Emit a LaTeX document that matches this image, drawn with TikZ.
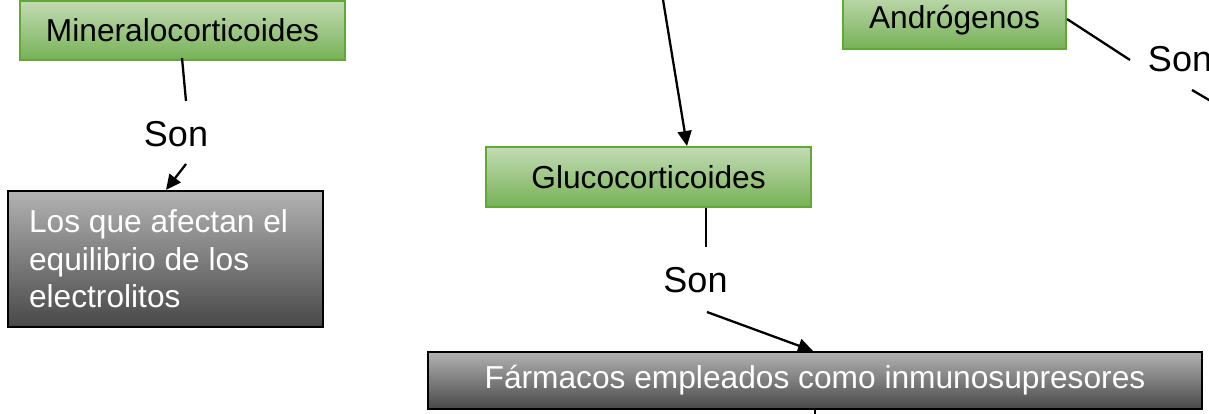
\documentclass[tikz,border=0pt]{standalone}
\usepackage{fontspec}
\setmainfont{Liberation Sans}
\usetikzlibrary{calc,arrows.meta}
\definecolor{gtop}{RGB}{195,219,180}
\definecolor{gbot}{RGB}{118,177,86}
\definecolor{gborder}{RGB}{96,170,52}
\definecolor{ktop}{RGB}{178,178,178}
\definecolor{kbot}{RGB}{72,72,72}
\tikzset{
  greenbox/.style={draw=gborder, line width=2pt, top color=gtop, bottom color=gbot,
    inner sep=0pt, font=\fontsize{31.7}{38}\selectfont, text=black},
  graybox/.style={draw=black, line width=2.2pt, top color=ktop, bottom color=kbot,
    inner sep=0pt, font=\fontsize{31.7}{37.5}\selectfont, text=white},
  sonlabel/.style={inner sep=0pt, font=\fontsize{36}{40}\selectfont},
  conn/.style={draw=black, line width=2.3pt},
  arr/.style={conn, -{Triangle[length=15pt,width=14pt]}}
}
\begin{document}
\begin{tikzpicture}[x=1pt,y=-1pt]
\useasboundingbox (0,0) rectangle (1209,413);
\clip (0,0) rectangle (1209,413);
\fill[white] (0,0) rectangle (1209,413);

\node[greenbox, minimum width=325pt, minimum height=59pt] (mineral) at (182.5,30.5) {Mineralocorticoides};
\node[graybox, minimum width=315pt, minimum height=136pt, text width=273pt, align=flush left] (losque) at (165.5,259)
  {Los que afectan el\\equilibrio de los\\electrolitos};
\node[greenbox, minimum width=325pt, minimum height=60pt] (gluco) at (648.5,177) {Glucocorticoides};
\node[greenbox, minimum width=223pt, minimum height=58pt] (andro) at (954.5,20) {Andrógenos};
\node[graybox, minimum width=774pt, minimum height=57pt] (farm) at (815,380.5) {Fármacos empleados como inmunosupresores};

\node[sonlabel] (son1) at (176,134.5) {Son};
\node[sonlabel] (son2) at (695.5,280.5) {Son};
\node[sonlabel] (son3) at (1180,59.5) {Son};

\coordinate (topin) at (661.4,-10);
\coordinate (rightout) at (1225,109.4);
\coordinate (bottomout) at (815,425);

\draw[conn] ($(mineral.center)+(-0.5,27.5)$) -- ($(son1)+(10,-33.5)$);
\draw[arr] ($(son1)+(10,29.5)$) -- ($(losque.north)+(0.5,0)$);
\draw[arr] (topin) -- ($(gluco.north)+(38.5,0)$);
\draw[conn] ($(gluco.south)+(57.5,0)$) -- ($(son2)+(10.5,-33.5)$);
\draw[arr] ($(son2)+(11.5,31.5)$) -- ($(farm.north)+(-2,0)$);
\draw[conn] ($(andro.east)+(0,-1)$) -- ($(son3)+(-50,0.5)$);
\draw[conn] ($(son3)+(12,30.5)$) -- (rightout);
\draw[conn] (farm.south) -- (bottomout);
\end{tikzpicture}
\end{document}
